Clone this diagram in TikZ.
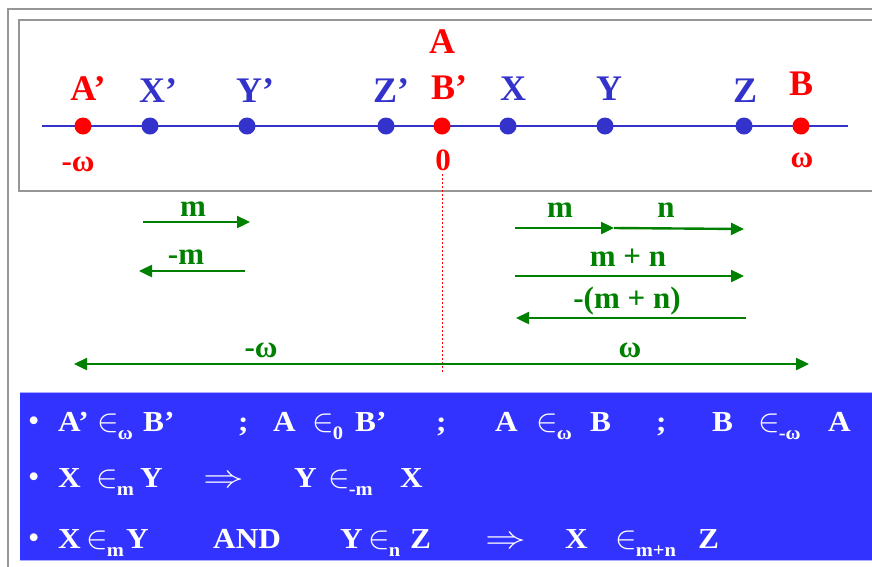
\documentclass[tikz,border=0pt]{standalone}
\usepackage{fix-cm}
\usepackage{graphicx}
\usepackage{fontspec}
\setmainfont{Liberation Serif}
\newfontfamily\stretchfont[FakeStretch=1.08]{Liberation Serif}
\usetikzlibrary{arrows.meta}
\definecolor{ptred}{RGB}{255,0,0}
\definecolor{ptblue}{RGB}{51,51,204}
\definecolor{ptgreen}{RGB}{0,128,0}
\definecolor{boxblue}{RGB}{51,51,255}
\definecolor{framegray}{RGB}{150,150,150}
\newcommand\insub[1]{\scalebox{1.12}{$\in$}\kern-1pt\raisebox{-8pt}{\fontsize{19}{19}\selectfont #1}}
\newcommand\impl{\scalebox{1.4}[1.1]{$\Rightarrow$}}
\tikzset{
  lbl/.style={font=\fontsize{36}{36}\selectfont\bfseries, anchor=base, inner sep=0pt},
  redlbl/.style={lbl, text=ptred},
  bluelbl/.style={lbl, text=ptblue},
  vallbl/.style={font=\fontsize{31}{31}\selectfont\bfseries, text=ptred, anchor=base, inner sep=0pt},
  dotr/.style={circle, fill=ptred, minimum size=17pt, inner sep=0pt},
  dotb/.style={circle, fill=ptblue, minimum size=17pt, inner sep=0pt},
  garrow/.style={draw=ptgreen, line width=2.4pt, -{Triangle[length=13pt,width=12pt]}},
  glbl/.style={font=\fontsize{31}{31}\selectfont\bfseries, text=ptgreen, anchor=base, inner sep=0pt},
  btxt/.style={font=\stretchfont\fontsize{29}{29}\selectfont\bfseries, text=white, anchor=base west, inner sep=0pt},
  bullet/.style={font=\fontsize{26}{26}\selectfont, text=white, anchor=base west, inner sep=0pt},
  frame/.style={draw=framegray, line width=2.5pt}
}
\newcommand\bul{\scalebox{1.25}{•}}
\begin{document}
\begin{tikzpicture}[x=1pt,y=-1pt]
\useasboundingbox (0,0) rectangle (872,566);
\clip (0,0) rectangle (872,566);
% outer frame
\draw[frame] (8,580) -- (8,9) -- (890,9);
% inner box
\draw[frame, line width=2pt] (890,20) -- (19,20) -- (19,191) -- (890,191);
% blue box
\fill[boxblue] (20,392) rectangle (890,560);
\draw[draw=boxblue!40, line width=1.2pt] (20,560.5) -- (890,560.5);
\draw[draw=boxblue!40, line width=0.8pt] (20,392) -- (890,392);

% number line
\coordinate (lineL) at (42,126);
\coordinate (lineR) at (848,126);
\draw[ptblue, line width=2pt] (lineL) -- (lineR);
\node[dotr] (pAp) at (83,126) {};
\node[dotb] (pXp) at (150,126) {};
\node[dotb] (pYp) at (247,126) {};
\node[dotb] (pZp) at (386,126) {};
\node[dotr] (pBp) at (442,126) {};
\node[dotb] (pX) at (508,126) {};
\node[dotb] (pY) at (605,126) {};
\node[dotb] (pZ) at (744,126) {};
\node[dotr] (pB) at (801,126) {};

\node[redlbl] (lAp) at (88,100) {A’};
\node[bluelbl] (lXp) at (158,102) {X’};
\node[bluelbl] (lYp) at (255,102) {Y’};
\node[bluelbl] (lZp) at (391,102) {Z’};
\node[redlbl] (lBp) at (449,99) {B’};
\node[redlbl] (lA) at (442,53) {A};
\node[bluelbl] (lX) at (513,100) {X};
\node[bluelbl] (lY) at (609,100) {Y};
\node[bluelbl] (lZ) at (745,102) {Z};
\node[redlbl] (lB) at (801,95) {B};

\node[vallbl] (vneg) at (78,171) {-ω};
\node[vallbl] (vzero) at (443,170) {0};
\node[vallbl] (vomega) at (802,167) {ω};

% dashed zero line
\coordinate (dTop) at (442,174);
\coordinate (dBot) at (442,372);
\draw[ptred, line width=1pt, dash pattern=on 2pt off 2pt] (dTop) -- (dBot);

% green arrows
\coordinate (a1s) at (143,222); \coordinate (a1e) at (250,222);
\draw[garrow] (a1s) -- (a1e);
\node[glbl] (g1) at (193,216) {m};
\coordinate (a2s) at (245,271); \coordinate (a2e) at (139,271);
\draw[garrow] (a2s) -- (a2e);
\node[glbl] (g2) at (186,264) {-m};

\coordinate (a3s) at (515,228); \coordinate (a3m) at (614,228); \coordinate (a3e) at (744,229);
\draw[garrow] (a3s) -- (a3m);
\draw[garrow] (a3m) -- (a3e);
\node[glbl] (g3) at (560,217) {m};
\node[glbl] (g4) at (666,217) {n};

\coordinate (a4s) at (515,276); \coordinate (a4e) at (744,276);
\draw[garrow] (a4s) -- (a4e);
\node[glbl] (g5) at (628,266) {m + n};

\coordinate (a5s) at (746,318); \coordinate (a5e) at (516,318);
\draw[garrow] (a5s) -- (a5e);
\node[glbl] (g6) at (627,308) {-(m + n)};

\coordinate (a6m) at (442,364); \coordinate (a6l) at (74,364); \coordinate (a6r) at (809,364);
\draw[garrow] (a6m) -- (a6l);
\draw[garrow] (a6m) -- (a6r);
\node[glbl] (g7) at (261,357) {-ω};
\node[glbl] (g8) at (630,357) {ω};

% blue box text, row 1
\node[bullet] (b1) at (28,431) {\bul};
\node[btxt] (r1a) at (58,431) {A’};
\node[btxt] (r1b) at (97,431) {\insub{ω}};
\node[btxt] (r1c) at (143,431) {B’};
\node[btxt] (r1d) at (238,431) {;};
\node[btxt] (r1e) at (273,431) {A};
\node[btxt] (r1f) at (312,431) {\insub{0}};
\node[btxt] (r1g) at (355,431) {B’};
\node[btxt] (r1h) at (436,431) {;};
\node[btxt] (r1i) at (495,431) {A};
\node[btxt] (r1j) at (536,431) {\insub{ω}};
\node[btxt] (r1k) at (590,431) {B};
\node[btxt] (r1l) at (656,431) {;};
\node[btxt] (r1m) at (712,431) {B};
\node[btxt] (r1n) at (758,431) {\insub{-ω}};
\node[btxt] (r1o) at (828,431) {A};
% row 2
\node[bullet] (b2) at (28,487) {\bul};
\node[btxt] (r2a) at (58,487) {X};
\node[btxt] (r2b) at (96,487) {\insub{m}};
\node[btxt] (r2c) at (140,487) {Y};
\node[btxt] (r2d) at (203,487) {\impl};
\node[btxt] (r2e) at (294,487) {Y};
\node[btxt] (r2f) at (328,487) {\insub{-m}};
\node[btxt] (r2g) at (400,487) {X};
% row 3
\node[bullet] (b3) at (28,548) {\bul};
\node[btxt] (r3a) at (58,548) {X};
\node[btxt] (r3b) at (86,548) {\insub{m}};
\node[btxt] (r3c) at (126,548) {Y};
\node[btxt] (r3d) at (213,548) {AND};
\node[btxt] (r3e) at (340,548) {Y};
\node[btxt] (r3f) at (368,548) {\insub{n}};
\node[btxt] (r3g) at (410,548) {Z};
\node[btxt] (r3h) at (485,548) {\impl};
\node[btxt] (r3i) at (565,548) {X};
\node[btxt] (r3j) at (615,548) {\insub{m+n}};
\node[btxt] (r3k) at (698,548) {Z};
\end{tikzpicture}
\end{document}
